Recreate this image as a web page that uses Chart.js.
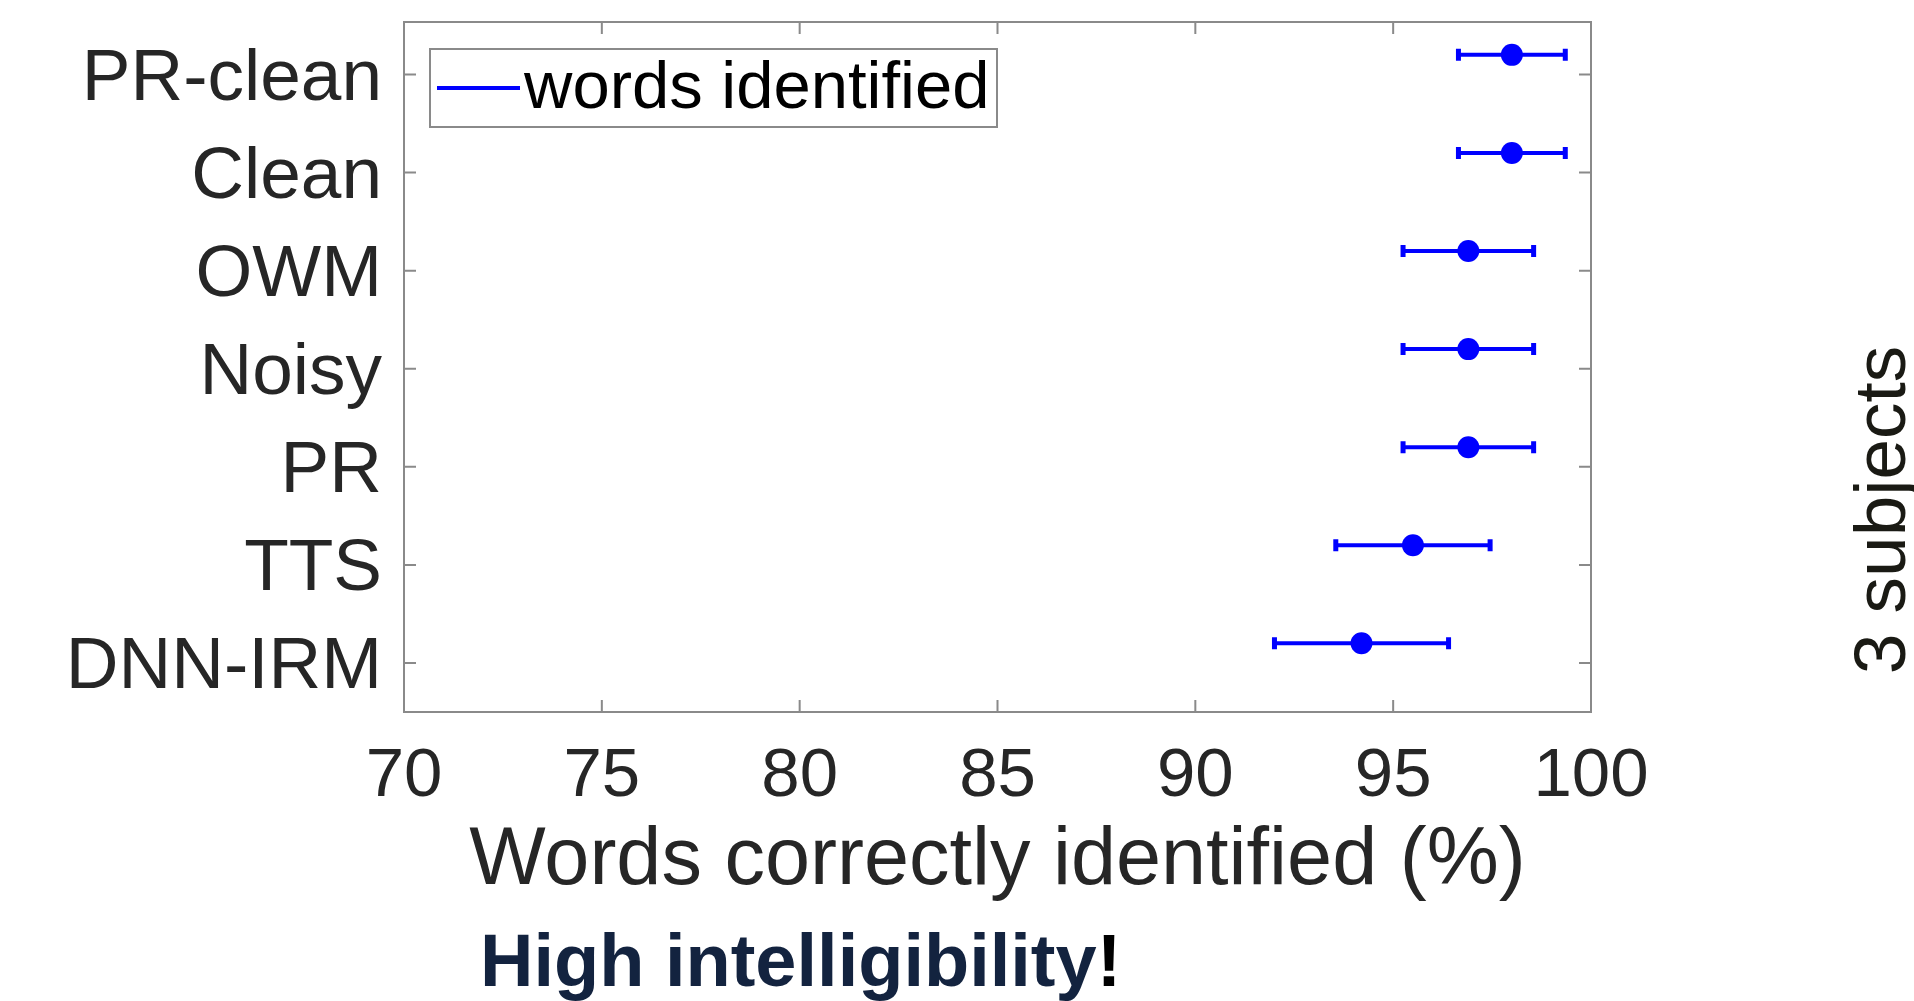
<!DOCTYPE html>
<html>
<head>
<meta charset="utf-8">
<title>Words correctly identified</title>
<script src="https://cdn.jsdelivr.net/npm/chart.js@4.4.1/dist/chart.umd.min.js"></script>
<style>
    html, body { margin: 0; padding: 0; background: #ffffff; }
    #wrap { width: 1914px; height: 1001px; }
</style>
</head>
<body>
<div id="wrap"><canvas id="chart"></canvas></div>
<script>
// Conditions, listed top to bottom as in the figure
const categories = ["PR-clean", "Clean", "OWM", "Noisy", "PR", "TTS", "DNN-IRM"];
// Mean words correctly identified (%)
const meanScores = [98.0, 98.0, 96.9, 96.9, 96.9, 95.5, 94.2];
// Half width of the error bars (%)
const errScores = [1.35, 1.35, 1.65, 1.65, 1.65, 1.95, 2.2];
const xTicks = [70, 75, 80, 85, 90, 95, 100];

const FONT = "'Liberation Sans', Arial, sans-serif";
const BLUE = "#0000ff";
const AXIS_GREY = "#8a8a8a";
const POINT_OFFSET = 0.2;

// y value of each category (top row gets the highest value)
function rowValue(i) {
    return categories.length - i;
}

const points = meanScores.map((m, i) => ({ x: m, y: rowValue(i) + POINT_OFFSET, err: errScores[i] }));

// Axis box with inward ticks on all four sides
const boxPlugin = {
    id: "box",
    afterDraw(chart) {
        const { ctx, chartArea: a, scales } = chart;
        const tick = 12;
        ctx.save();
        ctx.strokeStyle = AXIS_GREY;
        ctx.lineWidth = 2;
        ctx.strokeRect(a.left, a.top, a.right - a.left, a.bottom - a.top);
        ctx.beginPath();
        xTicks.forEach(v => {
            const px = scales.x.getPixelForValue(v);
            ctx.moveTo(px, a.bottom); ctx.lineTo(px, a.bottom - tick);
            ctx.moveTo(px, a.top); ctx.lineTo(px, a.top + tick);
        });
        categories.forEach((c, i) => {
            const py = scales.y.getPixelForValue(rowValue(i));
            ctx.moveTo(a.left, py); ctx.lineTo(a.left + tick, py);
            ctx.moveTo(a.right, py); ctx.lineTo(a.right - tick, py);
        });
        ctx.stroke();
        ctx.restore();
    }
};

// Horizontal error bars with caps
const errorBarPlugin = {
    id: "errorBars",
    beforeDatasetsDraw(chart) {
        const { ctx, scales } = chart;
        const capHalf = 6;
        ctx.save();
        ctx.strokeStyle = BLUE;
        points.forEach(p => {
            const x0 = scales.x.getPixelForValue(p.x - p.err);
            const x1 = scales.x.getPixelForValue(p.x + p.err);
            const y = scales.y.getPixelForValue(p.y);
            ctx.lineWidth = 4;
            ctx.beginPath();
            ctx.moveTo(x0, y); ctx.lineTo(x1, y);
            ctx.stroke();
            ctx.lineWidth = 5;
            ctx.beginPath();
            ctx.moveTo(x0, y - capHalf); ctx.lineTo(x0, y + capHalf);
            ctx.moveTo(x1, y - capHalf); ctx.lineTo(x1, y + capHalf);
            ctx.stroke();
        });
        ctx.restore();
    }
};

// Legend box inside the plot, plus the side and bottom notes
const notesPlugin = {
    id: "notes",
    afterDraw(chart) {
        const { ctx, chartArea: a } = chart;
        const ds = chart.data.datasets[0];
        ctx.save();

        // legend
        const lx = a.left + 26, ly = a.top + 27, lw = 567, lh = 78;
        ctx.fillStyle = "#ffffff";
        ctx.fillRect(lx, ly, lw, lh);
        ctx.strokeStyle = AXIS_GREY;
        ctx.lineWidth = 2;
        ctx.strokeRect(lx, ly, lw, lh);
        ctx.strokeStyle = ds.borderColor;
        ctx.lineWidth = 4;
        ctx.beginPath();
        ctx.moveTo(lx + 7, ly + lh / 2);
        ctx.lineTo(lx + 90, ly + lh / 2);
        ctx.stroke();
        ctx.fillStyle = "#000000";
        ctx.font = "67px " + FONT;
        ctx.textBaseline = "middle";
        ctx.textAlign = "left";
        ctx.fillText(ds.label, lx + 94, ly + lh / 2 + 2);

        // rotated note on the right
        ctx.save();
        ctx.translate(1905, 510);
        ctx.rotate(-Math.PI / 2);
        ctx.fillStyle = "#1a1a14";
        ctx.font = "73px " + FONT;
        ctx.textAlign = "center";
        ctx.textBaseline = "alphabetic";
        ctx.fillText("3 subjects", 0, 0);
        ctx.restore();

        // bold note under the axis title
        ctx.font = "bold 74px " + FONT;
        ctx.textAlign = "left";
        ctx.textBaseline = "alphabetic";
        const main = "High intelligibility";
        ctx.fillStyle = "#13233f";
        ctx.fillText(main, 480, 986);
        ctx.fillStyle = "#000000";
        ctx.fillText("!", 480 + ctx.measureText(main).width, 986);

        ctx.restore();
    }
};

const ctx = document.getElementById("chart").getContext("2d");
new Chart(ctx, {
    type: "scatter",
    data: {
        datasets: [{
            label: "words identified",
            data: points,
            borderColor: BLUE,
            backgroundColor: BLUE,
            pointRadius: 11,
            pointHoverRadius: 11,
            pointBorderWidth: 0,
            showLine: false
        }]
    },
    options: {
        responsive: true,
        maintainAspectRatio: false,
        animation: false,
        layout: { padding: { left: 0, right: 323, top: 22, bottom: 91 } },
        plugins: {
            legend: { display: false },
            tooltip: { enabled: false }
        },
        scales: {
            x: {
                type: "linear",
                min: 70,
                max: 100,
                afterBuildTicks: s => { s.ticks = xTicks.map(v => ({ value: v })); },
                afterFit: s => { s.height = 198; s.paddingLeft = 0; s.paddingRight = 0; },
                grid: { display: false, drawTicks: false },
                border: { display: false },
                ticks: {
                    padding: 24,
                    color: "#262626",
                    font: { family: FONT, size: 69 }
                },
                title: {
                    display: true,
                    text: "Words correctly identified (%)",
                    color: "#262626",
                    font: { family: FONT, size: 81 },
                    padding: { top: 0, bottom: 0 }
                }
            },
            y: {
                type: "linear",
                min: 0.5,
                max: 7.535,
                afterBuildTicks: s => { s.ticks = categories.map((c, i) => ({ value: rowValue(i) })); },
                afterFit: s => { s.width = 404; s.paddingTop = 0; s.paddingBottom = 0; },
                grid: { display: false, drawTicks: false },
                border: { display: false },
                ticks: {
                    padding: 22,
                    labelOffset: 5,
                    color: "#262626",
                    font: { family: FONT, size: 73 },
                    callback: v => categories[categories.length - v]
                }
            }
        }
    },
    plugins: [errorBarPlugin, boxPlugin, notesPlugin]
});
</script>
</body>
</html>
